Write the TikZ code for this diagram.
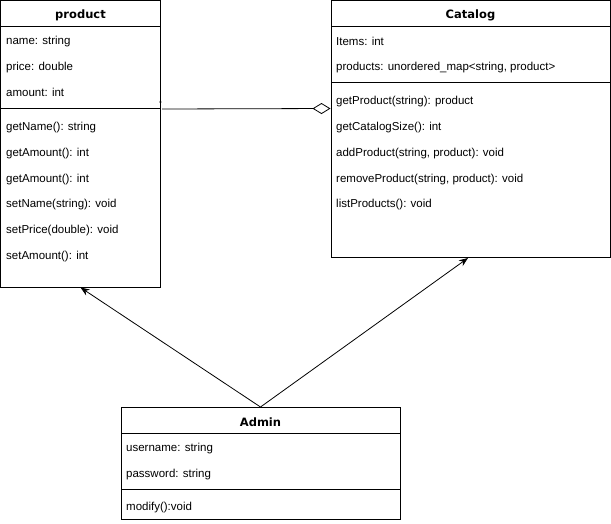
\documentclass[tikz,border=0pt]{standalone}
\usepackage{fontspec}
\setmainfont{Liberation Sans}
\newfontfamily\headfont{DejaVu Sans}
\usetikzlibrary{arrows.meta}
\begin{document}
\begin{tikzpicture}[x=1pt,y=-1pt,
  classbox/.style={draw=black, line width=1pt, fill=white, anchor=north west, inner sep=0pt, outer sep=0pt},
  classname/.style={font=\headfont\bfseries\fontsize{11.5}{13}\selectfont, anchor=center},
  member/.style={font=\fontsize{11.5}{13}\selectfont, anchor=west, inner sep=0pt, yshift=-1.8pt},
  divider/.style={line width=1pt},
  inherit/.style={line width=0.8pt, -{Stealth[length=9pt,width=7pt]}},
  aggregate/.style={line width=0.8pt, -{Diamond[open,length=18pt,width=11pt,line width=0.8pt]}}
]
\useasboundingbox (0,0) rectangle (611,523);

% ---- product ----
\node[classbox, minimum width=160pt, minimum height=287pt] (product) at (0.5,0.5) {};
\node[classname] (productname) at (80.5,15) {product};
\draw[divider] (0.5,26) -- (160.5,26);
\node[member] (p1) at (6,40) {name: string};
\node[member] (p2) at (6,65.5) {price: double};
\node[member] (p3) at (6,91) {amount: int};
\draw[divider] (0.5,108) -- (160.5,108);
\node[member] (p4) at (6,126) {getName(): string};
\node[member] (p5) at (6,152) {getAmount(): int};
\node[member] (p6) at (6,177.5) {getAmount(): int};
\node[member] (p7) at (6,203) {setName(string): void};
\node[member] (p8) at (6,229) {setPrice(double): void};
\node[member] (p9) at (6,255) {setAmount(): int};

% ---- Catalog ----
\node[classbox, minimum width=279pt, minimum height=257pt] (catalog) at (331,0.5) {};
\node[classname] (catalogname) at (470.5,15) {Catalog};
\draw[divider] (331,26) -- (610,26);
\node[member] (c1) at (336,40) {Items: int};
\node[member] (c2) at (336,65.5) {products: unordered\_map<string, product>};
\draw[divider] (331,82) -- (610,82);
\node[member] (c3) at (336,100) {getProduct(string): product};
\node[member] (c4) at (336,126) {getCatalogSize(): int};
\node[member] (c5) at (336,152) {addProduct(string, product): void};
\node[member] (c6) at (336,177.5) {removeProduct(string, product): void};
\node[member] (c7) at (336,203) {listProducts(): void};

% ---- Admin ----
\node[classbox, minimum width=279pt, minimum height=112pt] (admin) at (121,407) {};
\node[classname] (adminname) at (260.5,422) {Admin};
\draw[divider] (121,433) -- (400,433);
\node[member] (a1) at (126,447) {username: string};
\node[member] (a2) at (126,472.5) {password: string};
\draw[divider] (121,489) -- (400,489);
\node[member] (a3) at (126,506) {modify():void};

% ---- relations ----
\draw[inherit] (admin.north) -- (80.5,287.5);
\draw[inherit] (admin.north) -- (468,258);

\coordinate (aggfrom) at (162,109);
\coordinate (aggto) at (330.5,108.5);
\draw[aggregate] (aggfrom) -- (aggto);
\node[font=\fontsize{5}{5}\selectfont, inner sep=0pt] (mult) at (160.5,102.5) {±};
\end{tikzpicture}
\end{document}
